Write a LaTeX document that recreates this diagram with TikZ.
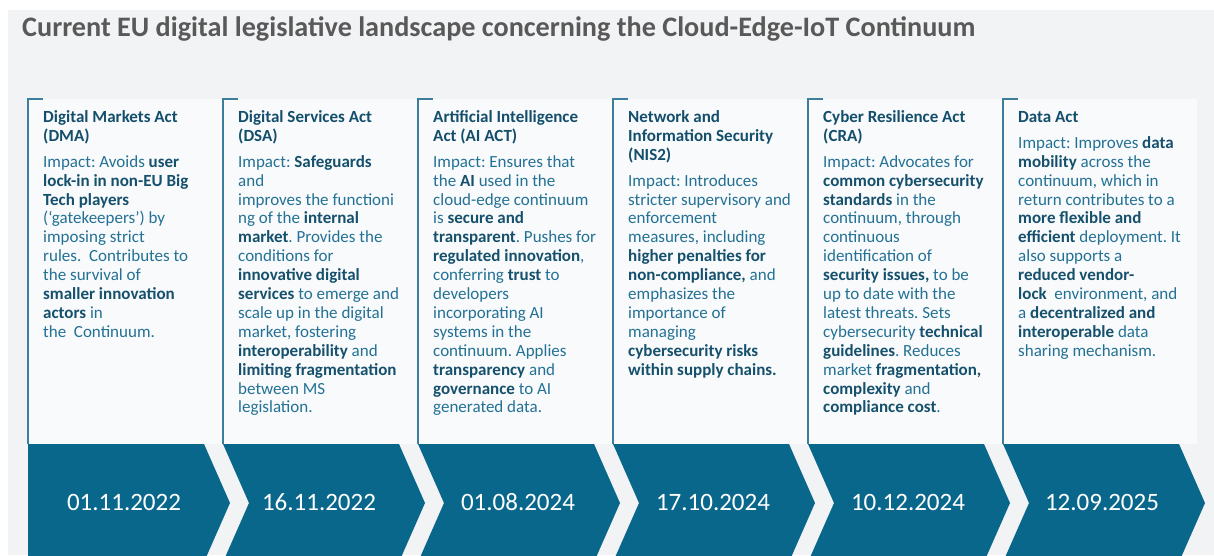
\documentclass[tikz,border=0pt]{standalone}
\usepackage{fontspec}
\setmainfont{Carlito}
\frenchspacing
\definecolor{chev}{HTML}{0A678C}
\definecolor{headcol}{HTML}{134E6C}
\definecolor{bodycol}{HTML}{237195}
\definecolor{boldcol}{HTML}{15506D}
\definecolor{rulecol}{HTML}{3C7E9C}
\definecolor{titlecol}{HTML}{595959}
\definecolor{panel}{HTML}{F2F3F5}
\definecolor{colbox}{HTML}{F9FAFB}
\newcommand{\kw}[1]{\textbf{\textcolor{boldcol}{#1}}}
\newcommand{\hd}[1]{\textbf{\textcolor{headcol}{#1}}}
% fixed height for the first line so the node top sits 14pt above its baseline
\newcommand{\firstline}{\rule{0pt}{14pt}}
\begin{document}
\begin{tikzpicture}[x=1pt,y=-1pt,
  coltext/.style={anchor=north west, inner sep=0pt, align=left, text=bodycol,
    font=\fontsize{17}{18.9}\selectfont},
  datelabel/.style={anchor=base, inner sep=0pt, text=white,
    font=\fontsize{25}{30}\selectfont},
  colrule/.style={draw=rulecol, line width=1.3pt},
  chevshape/.style={fill=chev}]
\useasboundingbox (0,0) rectangle (1214,555);
\fill[white] (0,0) rectangle (1214,555);
\fill[panel] (8,10) rectangle (1214,555);
\clip (0,0) rectangle (1214,555);

% title
\node[anchor=base west, inner sep=0pt, text=titlecol,
  font=\fontsize{28.2}{32}\selectfont\bfseries] (title) at (22,36)
  {Current EU digital legislative landscape concerning the Cloud-Edge-IoT Continuum};

% column panels with their bracket rules
\foreach \i in {0,...,5} {
  \pgfmathsetmacro{\L}{28+195*\i}
  \fill[colbox] (\L,99) rectangle (\L+194,444);
  \draw[colrule] (\L+15,99) -- (\L,99) -- (\L,444);
}

% timeline chevrons
\fill[chevshape] (28,444) -- (204,444) -- (230,503) -- (204,562) -- (28,562) -- cycle;
\foreach \i in {1,...,5} {
  \pgfmathsetmacro{\L}{28+195*\i}
  \fill[chevshape] (\L,444) -- (\L+176,444) -- (\L+202,503) -- (\L+176,562)
    -- (\L,562) -- (\L+26,503) -- cycle;
}

% dates
\node[datelabel] (d1) at (124,510) {01.11.2022};
\node[datelabel] (d2) at (319,510) {16.11.2022};
\node[datelabel] (d3) at (518,510) {01.08.2024};
\node[datelabel] (d4) at (713,510) {17.10.2024};
\node[datelabel] (d5) at (908,510) {10.12.2024};
\node[datelabel] (d6) at (1102,510) {12.09.2025};

% column texts
\node[coltext] (c1) at (43,108) {%
\firstline\hd{Digital Markets Act}\\
\hd{(DMA)}\\[7.2pt]
Impact: Avoids \kw{user}\\
\kw{lock-in in non-EU Big}\\
\kw{Tech players}\\
(‘gatekeepers’) by\\
imposing strict\\
rules.~ Contributes to\\
the survival of\\
\kw{smaller innovation}\\
\kw{actors} in\\
the~ Continuum.};

\node[coltext] (c2) at (238,108) {%
\firstline\hd{Digital Services Act}\\
\hd{(DSA)}\\[7.2pt]
Impact: \kw{Safeguards}\\
and\\
improves the functioni\\
ng of the \kw{internal}\\
\kw{market}. Provides the\\
conditions for\\
\kw{innovative digital}\\
\kw{services} to emerge and\\
scale up in the digital\\
market, fostering\\
\kw{interoperability} and\\
\kw{limiting fragmentation}\\
between MS\\
legislation.};

\node[coltext] (c3) at (433,108) {%
\firstline\hd{Artificial Intelligence}\\
\hd{Act (AI ACT)}\\[7.2pt]
Impact: Ensures that\\
the \kw{AI} used in the\\
cloud-edge continuum\\
is \kw{secure and}\\
\kw{transparent}. Pushes for\\
\kw{regulated innovation},\\
conferring \kw{trust} to\\
developers\\
incorporating AI\\
systems in the\\
continuum. Applies\\
\kw{transparency} and\\
\kw{governance} to AI\\
generated data.};

\node[coltext] (c4) at (628,108) {%
\firstline\hd{Network and}\\
\hd{Information Security}\\
\hd{(NIS2)}\\[7.2pt]
Impact: Introduces\\
stricter supervisory and\\
enforcement\\
measures, including\\
\kw{higher penalties for}\\
\kw{non-compliance,} and\\
emphasizes the\\
importance of\\
managing\\
\kw{cybersecurity risks}\\
\kw{within supply chains.}};

\node[coltext] (c5) at (823,108) {%
\firstline\hd{Cyber Resilience Act}\\
\hd{(CRA)}\\[7.2pt]
Impact: Advocates for\\
\kw{common cybersecurity}\\
\kw{standards} in the\\
continuum, through\\
continuous\\
identification of\\
\kw{security issues,} to be\\
up to date with the\\
latest threats. Sets\\
cybersecurity \kw{technical}\\
\kw{guidelines}. Reduces\\
market \kw{fragmentation,}\\
\kw{complexity} and\\
\kw{compliance cost}.};

\node[coltext] (c6) at (1018,108) {%
\firstline\hd{Data Act}\\[7.2pt]
Impact: Improves \kw{data}\\
\kw{mobility} across the\\
continuum, which in\\
return contributes to a\\
\kw{more flexible and}\\
\kw{efficient} deployment. It\\
also supports a\\
\kw{reduced vendor-}\\
\kw{lock}~ environment, and\\
a \kw{decentralized and}\\
\kw{interoperable} data\\
sharing mechanism.};
\end{tikzpicture}
\end{document}
